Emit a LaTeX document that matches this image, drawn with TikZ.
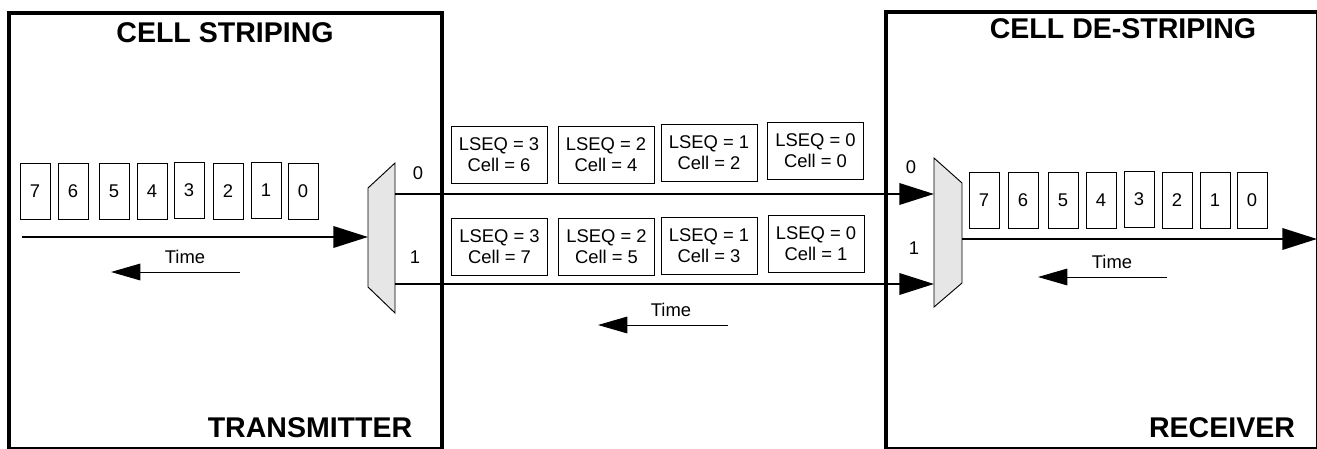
\documentclass[tikz,border=0pt]{standalone}
\usepackage{fontspec}
\setmainfont{Liberation Sans}
\usetikzlibrary{arrows.meta}
\definecolor{muxgray}{RGB}{230,230,230}
\tikzset{
  frame/.style={draw, line width=3pt},
  title/.style={font=\fontsize{21.4}{24}\selectfont\bfseries, inner sep=0pt},
  cellbox/.style={draw, line width=0.7pt, minimum width=22.5pt, minimum height=42pt, inner sep=0pt, font=\fontsize{13.8}{15}\selectfont},
  seqbox/.style={draw, line width=0.7pt, minimum width=72pt, minimum height=42.75pt, inner sep=0pt, align=center, font=\fontsize{13.8}{15.6}\selectfont},
  lbl/.style={inner sep=0pt, font=\fontsize{13.8}{15}\selectfont},
  mux/.style={draw, line width=0.7pt, fill=muxgray},
  bigarrow/.style={line width=1.9pt, -{Triangle[length=26pt,width=16pt]}},
  timearrow/.style={line width=0.75pt, -{Triangle[length=22pt,width=12.5pt]}}
}
\begin{document}
\begin{tikzpicture}[x=0.75pt, y=-0.75pt]
\useasboundingbox (0,0) rectangle (1317,449);
% frames
\draw[frame] (8.5,13) rectangle (442,449);
\draw[frame] (886,12) rectangle (1318,449);
% titles
\node[title] (t1) at (225,33) {CELL STRIPING};
\node[title] (t2) at (310,428) {TRANSMITTER};
\node[title] (t3) at (1123,29) {CELL DE-STRIPING};
\node[title] (t4) at (1222,428) {RECEIVER};
% transmitter cells
\foreach \n/\x/\y in {7/35/191, 6/73/191, 5/114/191, 4/152/191, 3/189/190, 2/228/191, 1/266/190.5, 0/303/191}
  \node[cellbox] (tc\n) at (\x,\y) {\n};
% receiver cells
\foreach \n/\x/\y in {7/984/200.5, 6/1023/200.5, 5/1063/200.5, 4/1101/200.5, 3/1139/199.5, 2/1177/200.5, 1/1215/200.5, 0/1252/200.5}
  \node[cellbox] (rc\n) at (\x,\y) {\n};
% muxes
\draw[mux] (368,188) -- (395,163) -- (395,313) -- (368,287) -- cycle;
\draw[mux] (934,158) -- (962,183) -- (962,283) -- (934,307) -- cycle;
% ports
\coordinate (txsrc) at (22,237);
\coordinate (txin) at (368,237);
\coordinate (txo0) at (395,194);
\coordinate (txo1) at (395,284);
\coordinate (rxi0) at (934,194);
\coordinate (rxi1) at (934,284);
\coordinate (rxout) at (962,239);
\coordinate (rxend) at (1317,239);
% connectors
\draw[bigarrow] (txsrc) -- (txin);
\draw[bigarrow] (txo0) -- (rxi0);
\draw[bigarrow] (txo1) -- (rxi1);
\draw[bigarrow] (rxout) -- (rxend);
% port labels
\node[lbl] (l0) at (418,173) {0};
\node[lbl] (l1) at (415,257) {1};
\node[lbl] (r0) at (911,167) {0};
\node[lbl] (r1) at (914,248) {1};
% sequence boxes
\node[seqbox] (s03) at (499,154.5) {LSEQ = 3\\Cell = 6};
\node[seqbox] (s02) at (606,154.5) {LSEQ = 2\\Cell = 4};
\node[seqbox] (s01) at (709,152.5) {LSEQ = 1\\Cell = 2};
\node[seqbox] (s00) at (815.5,151) {LSEQ = 0\\Cell = 0};
\node[seqbox] (s13) at (499.5,246.5) {LSEQ = 3\\Cell = 7};
\node[seqbox] (s12) at (606.5,246.5) {LSEQ = 2\\Cell = 5};
\node[seqbox] (s11) at (709,245.5) {LSEQ = 1\\Cell = 3};
\node[seqbox] (s10) at (816,243.5) {LSEQ = 0\\Cell = 1};
% time arrows
\node[lbl] (time1) at (185,257) {Time};
\coordinate (ta1s) at (240,272);
\coordinate (ta1e) at (111,272);
\draw[timearrow] (ta1s) -- (ta1e);
\node[lbl] (time2) at (671,310) {Time};
\coordinate (ta2s) at (728,325);
\coordinate (ta2e) at (598,325);
\draw[timearrow] (ta2s) -- (ta2e);
\node[lbl] (time3) at (1112,262) {Time};
\coordinate (ta3s) at (1167,277);
\coordinate (ta3e) at (1038,277);
\draw[timearrow] (ta3s) -- (ta3e);
\end{tikzpicture}
\end{document}
